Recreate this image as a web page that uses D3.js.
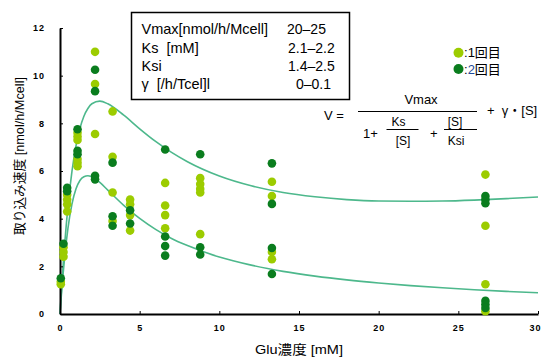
<!DOCTYPE html>
<html>
<head>
<meta charset="utf-8">
<script src="https://cdn.jsdelivr.net/npm/d3@7/dist/d3.min.js"></script>
<style>
  body { margin: 0; background: #fff; }
  svg { display: block; }
  text { font-family: "Liberation Sans", Arial, "Noto Sans CJK JP", sans-serif; fill: #000; }
  .jp { font-family: "Liberation Sans", "Noto Sans CJK JP", sans-serif; }
</style>
</head>
<body>
<svg id="chart" width="543" height="360"></svg>
<script>
// ---- data ----
const xTicks = [0, 5, 10, 15, 20, 25, 30];
const yTicks = [0, 2, 4, 6, 8, 10, 12];
const xTickLabels = ["0", "5", "10", "15", "20", "25", "30"];
const yTickLabels = ["0", "2", "4", "6", "8", "10", "12"];

// measured points, run 1 (light green)
const run1 = [
  [0.05, 1.35], [0.05, 1.25],
  [0.22, 2.8], [0.22, 2.6], [0.22, 2.4],
  [0.45, 5.0], [0.45, 4.8], [0.45, 4.6], [0.45, 4.3],
  [1.1, 7.6], [1.1, 7.45], [1.1, 7.3], [1.1, 6.5], [1.1, 6.35], [1.1, 6.2],
  [2.2, 11.0], [2.2, 9.65], [2.2, 7.55],
  [3.3, 8.5], [3.3, 6.6], [3.3, 5.1], [3.3, 3.9],
  [4.4, 4.8], [4.4, 4.6], [4.4, 4.15], [4.4, 3.5],
  [6.6, 5.5], [6.6, 4.55], [6.6, 4.15], [6.6, 3.6],
  [8.8, 5.7], [8.8, 5.45], [8.8, 5.25], [8.8, 5.1], [8.8, 3.35],
  [13.3, 5.55], [13.3, 4.95], [13.3, 2.6], [13.3, 2.3],
  [26.7, 5.85], [26.7, 3.7], [26.7, 1.25], [26.7, 0.12]
];
// measured points, run 2 (dark green)
const run2 = [
  [0.05, 1.5],
  [0.22, 2.95],
  [0.45, 5.3], [0.45, 5.15],
  [1.1, 7.75], [1.1, 6.85], [1.1, 6.7],
  [2.2, 10.25], [2.2, 9.35], [2.2, 5.8], [2.2, 5.65],
  [3.3, 6.35], [3.3, 4.1], [3.3, 3.7],
  [4.4, 4.35], [4.4, 3.8],
  [6.6, 6.9], [6.6, 3.25], [6.6, 2.85], [6.6, 2.45],
  [8.8, 6.7], [8.8, 2.8], [8.8, 2.5],
  [13.3, 6.32], [13.3, 4.62], [13.3, 2.77], [13.3, 1.68],
  [26.7, 4.95], [26.7, 4.8], [26.7, 4.65], [26.7, 0.55], [26.7, 0.4], [26.7, 0.25]
];

// fitted curves
const curveX = [0, 0.05, 0.1, 0.2, 0.3, 0.4, 0.5, 0.75, 1, 1.25, 1.5, 1.75, 2, 2.5, 3, 4, 5, 6, 7, 8, 10, 12, 14, 16, 18, 20, 22, 24, 26, 28, 30];
const upperY = [0, 0.56, 1.09, 2.09, 2.99, 3.79, 4.51, 5.98, 7.04, 7.79, 8.30, 8.62, 8.82, 8.93, 8.82, 8.34, 7.77, 7.24, 6.78, 6.39, 5.79, 5.38, 5.10, 4.92, 4.80, 4.74, 4.73, 4.74, 4.78, 4.84, 4.91];
const lowerY = [0, 0.47, 0.91, 1.72, 2.44, 3.06, 3.60, 4.61, 5.24, 5.60, 5.76, 5.80, 5.75, 5.52, 5.20, 4.56, 4.01, 3.55, 3.17, 2.87, 2.39, 2.05, 1.79, 1.59, 1.43, 1.30, 1.19, 1.10, 1.02, 0.95, 0.89];

const tableRows = [
  ["Vmax[nmol/h/Mcell]", "20–25"],
  ["Ks  [mM]", "2.1–2.2"],
  ["Ksi", "1.4–2.5"],
  ["γ  [/h/Tcel]l", "0–0.1"]
];
const seriesNames = ["1回目", "2回目"];
const colors = { light: "#9ccc00", dark: "#0a7d1e", curve: "#4db88c" };

// ---- drawing ----
const svg = d3.select("#chart");
const x = d3.scaleLinear().domain([0, 30]).range([60, 538]);
const y = d3.scaleLinear().domain([0, 12]).range([314, 28]);

// curves
const line = d3.line().x((d, i) => x(curveX[i])).y(d => y(d)).curve(d3.curveMonotoneX);
[upperY, lowerY].forEach(arr => {
  svg.append("path").attr("d", line(arr)).attr("fill", "none")
    .attr("stroke", colors.curve).attr("stroke-width", 1.6);
});

// axes
const xAxis = d3.axisBottom(x).tickValues(xTicks).tickFormat((d, i) => xTickLabels[i])
  .tickSizeInner(-3).tickSizeOuter(0).tickPadding(11);
const gx = svg.append("g").attr("transform", "translate(0,314)").call(xAxis);
gx.select(".domain").attr("stroke", "#000").attr("stroke-width", 2);
gx.selectAll(".tick line").attr("stroke", "#000");
gx.selectAll("text").attr("font-size", 9).attr("font-weight", "bold").attr("letter-spacing", 1)
  .attr("font-family", "DejaVu Sans Mono, monospace");
gx.selectAll(".tick").filter(d => d === 30).select("text").attr("dx", -3);

const yAxis = d3.axisLeft(y).tickValues(yTicks).tickFormat((d, i) => yTickLabels[i])
  .tickSizeInner(-3).tickSizeOuter(0).tickPadding(15);
const gy = svg.append("g").attr("transform", "translate(60,0)").call(yAxis);
gy.select(".domain").attr("stroke", "#000").attr("stroke-width", 2);
gy.selectAll(".tick line").attr("stroke", "#000");
gy.selectAll("text").attr("font-size", 9).attr("font-weight", "bold").attr("letter-spacing", 1)
  .attr("font-family", "DejaVu Sans Mono, monospace");

// points
svg.append("g").selectAll("circle").data(run1).join("circle")
  .attr("cx", d => x(d[0])).attr("cy", d => y(d[1])).attr("r", 4.3).attr("fill", colors.light);
svg.append("g").selectAll("circle").data(run2).join("circle")
  .attr("cx", d => x(d[0])).attr("cy", d => y(d[1])).attr("r", 4.3).attr("fill", colors.dark);

// axis titles
svg.append("text").attr("class", "jp").attr("transform", "translate(24,156) rotate(-90)")
  .attr("text-anchor", "middle").attr("font-size", 13)
  .attr("textLength", 158).attr("lengthAdjust", "spacingAndGlyphs")
  .text("取り込み速度 [nmol/h/Mcell]");
svg.append("text").attr("class", "jp").attr("x", 299).attr("y", 354)
  .attr("text-anchor", "middle").attr("font-size", 13)
  .attr("textLength", 88).attr("lengthAdjust", "spacingAndGlyphs")
  .text("Glu濃度 [mM]");

// parameter table
svg.append("rect").attr("x", 131.5).attr("y", 12.5).attr("width", 218).attr("height", 87)
  .attr("fill", "#fff").attr("stroke", "#000").attr("stroke-width", 1.5);
const rowBase = [34, 52.5, 71, 89];
const valX = [287, 288, 288, 296];
tableRows.forEach((r, i) => {
  svg.append("text").attr("x", 141.5).attr("y", rowBase[i]).attr("font-size", 14.5)
    .attr("xml:space", "preserve").style("white-space", "pre").text(r[0]);
  svg.append("text").attr("x", valX[i]).attr("y", rowBase[i]).attr("font-size", 14).text(r[1]);
});

// legend
const legY = [52.7, 69];
[colors.light, colors.dark].forEach((c, i) => {
  svg.append("circle").attr("cx", 458.5).attr("cy", legY[i]).attr("r", 5).attr("fill", c);
  const t = svg.append("text").attr("class", "jp").attr("x", 464).attr("y", legY[i] + 4.5).attr("font-size", 13);
  t.append("tspan").text(":");
  t.append("tspan").attr("fill", i === 1 ? "#1f4a9a" : "#000").text(String(i + 1));
  t.append("tspan").text(seriesNames[i].slice(1));
});

// formula
const f = svg.append("g");
f.append("text").attr("x", 324).attr("y", 120).attr("font-size", 13).attr("xml:space", "preserve").style("white-space", "pre").text("V =");
f.append("line").attr("x1", 358).attr("x2", 477).attr("y1", 111.5).attr("y2", 111.5).attr("stroke", "#000").attr("stroke-width", 1);
f.append("text").attr("x", 421).attr("y", 104).attr("text-anchor", "middle").attr("font-size", 13).text("Vmax");
f.append("text").attr("x", 487).attr("y", 115).attr("font-size", 13).attr("xml:space", "preserve").style("white-space", "pre").text("+  γ・[S]");
f.append("text").attr("x", 363).attr("y", 138).attr("font-size", 13).text("1+");
f.append("text").attr("x", 398.5).attr("y", 126).attr("text-anchor", "middle").attr("font-size", 12).text("Ks");
f.append("line").attr("x1", 386.5).attr("x2", 418.5).attr("y1", 129.5).attr("y2", 129.5).attr("stroke", "#000");
f.append("text").attr("x", 403).attr("y", 145).attr("text-anchor", "middle").attr("font-size", 12).text("[S]");
f.append("text").attr("x", 430).attr("y", 138).attr("font-size", 13).text("+");
f.append("text").attr("x", 455).attr("y", 126).attr("text-anchor", "middle").attr("font-size", 12).text("[S]");
f.append("line").attr("x1", 444).attr("x2", 477).attr("y1", 129.5).attr("y2", 129.5).attr("stroke", "#000");
f.append("text").attr("x", 456).attr("y", 145).attr("text-anchor", "middle").attr("font-size", 12).text("Ksi");
</script>
</body>
</html>
